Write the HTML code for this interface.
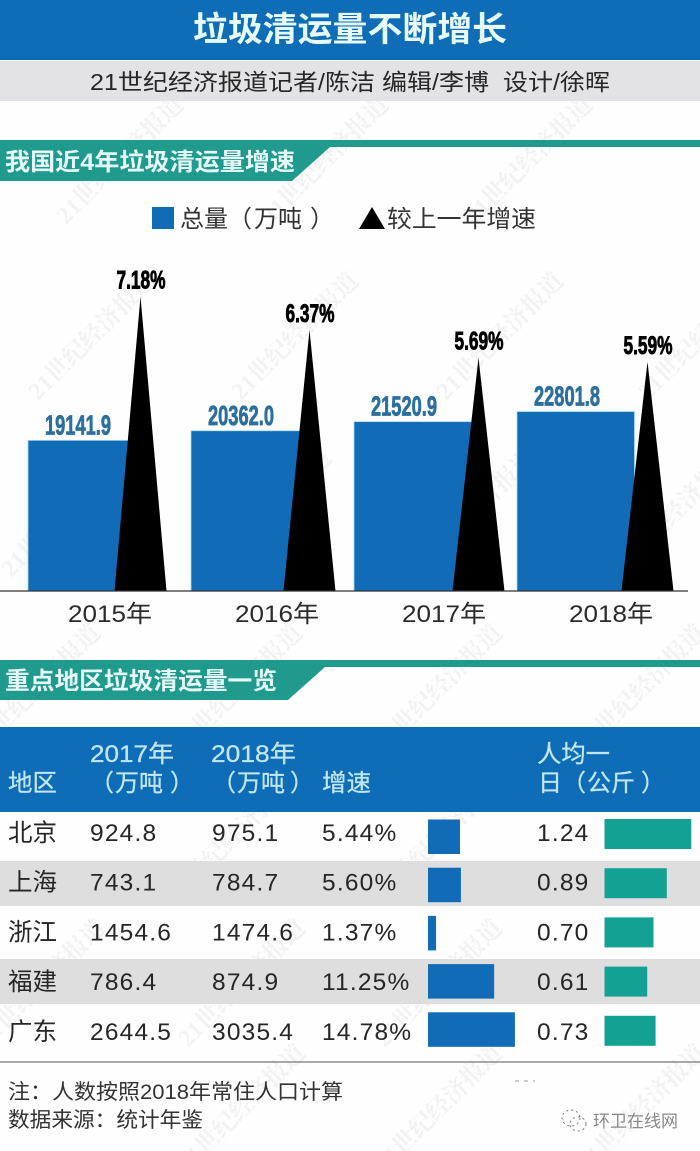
<!DOCTYPE html>
<html lang="zh-CN">
<head>
<meta charset="utf-8">
<title>垃圾清运量不断增长</title>
<style>
html,body{margin:0;padding:0;background:#fff;}
body{width:700px;height:1151px;overflow:hidden;}
svg{display:block;}
text{font-family:"Liberation Sans","Noto Sans CJK SC",sans-serif;white-space:pre;}
.wm text{font-family:"Liberation Serif","Noto Serif CJK SC",serif;font-weight:700;font-size:24px;fill:#f2f2f2;}
.head{fill:#e6fafa;font-weight:700;}
.th{fill:#bfe6f4;font-size:24px;stroke:#bfe6f4;stroke-width:0.3;}
.foot{fill:#333;font-size:21px;}
</style>
</head>
<body>
<svg id="page" xmlns="http://www.w3.org/2000/svg" width="700" height="1151" viewBox="0 0 700 1151">
  <rect x="0" y="0" width="700" height="1151" fill="#fefefe"/>

  <g class="wm">
    <text transform="translate(66,225) rotate(-45)">21世纪经济报道</text>
    <text transform="translate(271,225) rotate(-45)">21世纪经济报道</text>
    <text transform="translate(475,225) rotate(-45)">21世纪经济报道</text>
    <text transform="translate(38,401) rotate(-45)">21世纪经济报道</text>
    <text transform="translate(241,401) rotate(-45)">21世纪经济报道</text>
    <text transform="translate(446,401) rotate(-45)">21世纪经济报道</text>
    <text transform="translate(648,401) rotate(-45)">21世纪经济报道</text>
    <text transform="translate(11,578) rotate(-45)">21世纪经济报道</text>
    <text transform="translate(214,578) rotate(-45)">21世纪经济报道</text>
    <text transform="translate(418,578) rotate(-45)">21世纪经济报道</text>
    <text transform="translate(620,578) rotate(-45)">21世纪经济报道</text>
    <text transform="translate(-17,753) rotate(-45)">21世纪经济报道</text>
    <text transform="translate(185,753) rotate(-45)">21世纪经济报道</text>
    <text transform="translate(385,753) rotate(-45)">21世纪经济报道</text>
    <text transform="translate(588,753) rotate(-45)">21世纪经济报道</text>
    <text transform="translate(178,903) rotate(-45)">21世纪经济报道</text>
    <text transform="translate(385,903) rotate(-45)">21世纪经济报道</text>
    <text transform="translate(-12,1048) rotate(-45)">21世纪经济报道</text>
    <text transform="translate(188,1048) rotate(-45)">21世纪经济报道</text>
    <text transform="translate(385,1048) rotate(-45)">21世纪经济报道</text>
    <text transform="translate(188,1173) rotate(-45)">21世纪经济报道</text>
    <text transform="translate(385,1173) rotate(-45)">21世纪经济报道</text>
    <text transform="translate(588,1173) rotate(-45)">21世纪经济报道</text>
  </g>

  <rect x="0" y="0" width="700" height="60" fill="#0f6cb6"/>
  <text class="head" x="193" y="41" font-size="34" textLength="314" lengthAdjust="spacingAndGlyphs">垃圾清运量不断增长</text>
  <rect x="0" y="61" width="700" height="40" fill="#e3e3e5"/>
  <text x="90" y="90" font-size="23" fill="#262626" textLength="520" lengthAdjust="spacingAndGlyphs">21世纪经济报道记者/陈洁 编辑/李博  设计/徐晖</text>

  <rect x="0" y="140" width="700" height="7" fill="#1f9a8d"/>
  <polygon points="0,147 330,147 292,181 0,181" fill="#1f9a8d"/>
  <text class="head" x="5" y="170" font-size="24" textLength="290" lengthAdjust="spacingAndGlyphs">我国近4年垃圾清运量增速</text>

  <rect x="152" y="207" width="22" height="22" fill="#116bb6"/>
  <text x="180" y="227" font-size="24" fill="#333">总量（<tspan dx="2">万吨</tspan><tspan dx="8">）</tspan></text>
  <polygon points="359,229 385,229 372,207" fill="#000"/>
  <text x="387" y="227" font-size="24" fill="#333" textLength="149" lengthAdjust="spacingAndGlyphs">较上一年增速</text>

  <g id="chart"></g>
  <line x1="0" y1="591" x2="688" y2="591" stroke="#333" stroke-width="1.2"/>

  <rect x="0" y="660" width="700" height="7" fill="#1f9a8d"/>
  <polygon points="0,667 325,667 288,700 0,700" fill="#1f9a8d"/>
  <text class="head" x="5" y="689" font-size="24" textLength="272" lengthAdjust="spacingAndGlyphs">重点地区垃圾清运量一览</text>

  <rect x="0" y="727" width="700" height="85" fill="#0f6cb6"/>
  <text class="th" x="8" y="791" textLength="49" lengthAdjust="spacingAndGlyphs">地区</text>
  <text class="th" x="90" y="762" textLength="84" lengthAdjust="spacingAndGlyphs">2017年</text>
  <text class="th" x="90" y="791">（<tspan dx="1">万吨</tspan><tspan dx="7">）</tspan></text>
  <text class="th" x="211" y="762" textLength="85" lengthAdjust="spacingAndGlyphs">2018年</text>
  <text class="th" x="212" y="791">（<tspan dx="1">万吨</tspan><tspan dx="5">）</tspan></text>
  <text class="th" x="322" y="791" textLength="49" lengthAdjust="spacingAndGlyphs">增速</text>
  <text class="th" x="537" y="762" textLength="73" lengthAdjust="spacingAndGlyphs">人均一</text>
  <text class="th" x="538" y="791">日（<tspan dx="1">公斤</tspan><tspan dx="6">）</tspan></text>

  <rect x="0" y="861" width="700" height="45" fill="#dcdcdc" fill-opacity="0.95"/>
  <rect x="0" y="959" width="700" height="45" fill="#dcdcdc" fill-opacity="0.95"/>
  <g id="table"></g>
  <line x1="0" y1="1062" x2="700" y2="1062" stroke="#555" stroke-width="1"/>

  <text class="foot" x="8" y="1099" textLength="335" lengthAdjust="spacingAndGlyphs">注：人数按照2018年常住人口计算</text>
  <text class="foot" x="8" y="1127" textLength="195" lengthAdjust="spacingAndGlyphs">数据来源：统计年鉴</text>

  <line x1="515" y1="1081" x2="535" y2="1081" stroke="#999" stroke-width="1" stroke-dasharray="4 5"/>
  <g fill="none" stroke="#777" stroke-width="1" stroke-dasharray="2 3">
    <ellipse cx="571" cy="1118" rx="9" ry="8"/>
    <ellipse cx="578" cy="1124" rx="8" ry="7"/>
  </g>
  <text x="593" y="1127" font-size="17" fill="#888" textLength="85" lengthAdjust="spacingAndGlyphs">环卫在线网</text>
</svg>

<script>
const years = ['2015年', '2016年', '2017年', '2018年'];
const totals = [19141.9, 20362.0, 21520.9, 22801.8];
const growthRates = [7.18, 6.37, 5.69, 5.59];

const regions = ['北京', '上海', '浙江', '福建', '广东'];
const volume2017 = [924.8, 743.1, 1454.6, 786.4, 2644.5];
const volume2018 = [975.1, 784.7, 1474.6, 874.9, 3035.4];
const regionGrowth = [5.44, 5.60, 1.37, 11.25, 14.78];
const perCapita = [1.24, 0.89, 0.70, 0.61, 0.73];

const NS = 'http://www.w3.org/2000/svg';
const baseY = 591;
const yTotal = v => baseY - v * 0.00787;
const yGrowth = v => baseY - v * 41;
const xBar = i => 28 + i * 163;
const xApex = i => 140.5 + i * 169;
const xYear = i => 110 + i * 167;
const wGrowth = v => v * 5.88;
const wPerCapita = v => v * 70;
const yRowText = i => 841 + i * 49.7;
const yGrowthBar = i => 819.5 + i * 48.2;
const yCapitaBar = i => 819 + i * 49.2;

function make(tag, parent, attrs, txt) {
  const el = document.createElementNS(NS, tag);
  for (const k in attrs) el.setAttribute(k, attrs[k]);
  if (txt !== undefined) el.textContent = txt;
  parent.appendChild(el);
  return el;
}

const chart = document.getElementById('chart');
years.forEach((yr, i) => {
  const top = yTotal(totals[i]);
  const bar = make('rect', chart, {x: xBar(i), y: top, width: 117.5, height: baseY - top, fill: '#116bb6', stroke: '#a6dcf0', 'stroke-width': 0.8});
  
  

  const apexX = xApex(i);
  const apexY = yGrowth(growthRates[i]);
  const tri = make('polygon', chart, {points: (apexX - 26) + ',' + baseY + ' ' + (apexX + 26) + ',' + baseY + ' ' + apexX + ',' + apexY, fill: '#000'});
  
  

  const valueLabel = make('text', chart, {x: xBar(i) + 50, y: top - 6, 'text-anchor': 'middle', 'font-size': 28, 'font-weight': 700, fill: '#2a6f9e', stroke: '#2a6f9e', 'stroke-width': 0.8, textLength: 66, lengthAdjust: 'spacingAndGlyphs'}, totals[i].toFixed(1));
  
  

  const rateLabel = make('text', chart, {x: apexX + 0.5, y: apexY - 8, 'text-anchor': 'middle', 'font-size': 25, 'font-weight': 700, fill: '#000', stroke: '#000', 'stroke-width': 0.9, textLength: 49, lengthAdjust: 'spacingAndGlyphs'}, growthRates[i].toFixed(2) + '%');
  
  

  const tick = make('text', chart, {x: xYear(i), y: 622, 'text-anchor': 'middle', 'font-size': 24, fill: '#2a2a2a', textLength: 84, lengthAdjust: 'spacingAndGlyphs'}, yr);
  
  
});

const table = document.getElementById('table');
const cellStyle = {'font-size': 24.5, fill: '#262626', 'letter-spacing': 1.2};
regions.forEach((region, i) => {
  const y = yRowText(i);
  const regionCell = make('text', table, {x: 8, y: y, 'font-size': 24.5, fill: '#262626'}, region);
  
  

  const cell2017 = make('text', table, Object.assign({x: 90, y: y}, cellStyle), volume2017[i].toFixed(1));
  
  

  const cell2018 = make('text', table, Object.assign({x: 212, y: y}, cellStyle), volume2018[i].toFixed(1));
  
  

  const cellGrowth = make('text', table, Object.assign({x: 322, y: y}, cellStyle), regionGrowth[i].toFixed(2) + '%');
  
  

  const growthBar = make('rect', table, {x: 428, y: yGrowthBar(i), width: wGrowth(regionGrowth[i]), height: 34.5, fill: '#116bb6'});
  
  

  const cellCapita = make('text', table, Object.assign({x: 537, y: y}, cellStyle), perCapita[i].toFixed(2));
  
  

  const capitaBar = make('rect', table, {x: 604.5, y: yCapitaBar(i), width: wPerCapita(perCapita[i]), height: 30, fill: '#12a192'});
  
  
});
</script>
</body>
</html>
